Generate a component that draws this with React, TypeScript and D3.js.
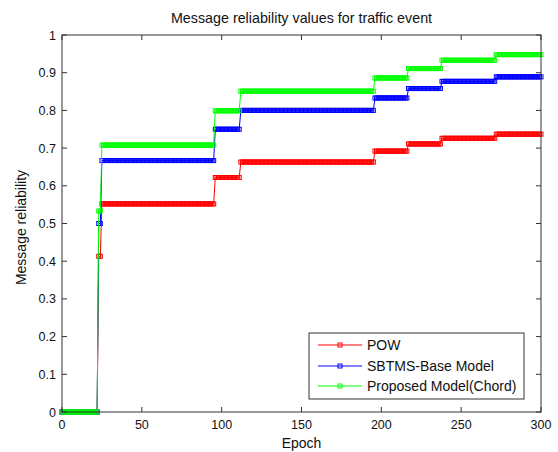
import React from "react";
import * as d3 from "d3";

// Epoch at which each reliability level begins (levels hold until the next start)
const stepStarts = [0, 23, 25, 96, 112, 196, 217, 238, 272];
const lastEpoch = 300;

const powLevels = [0, 0.413, 0.552, 0.622, 0.663, 0.692, 0.711, 0.726, 0.737];
const sbtmsLevels = [0, 0.5, 0.667, 0.75, 0.8, 0.833, 0.858, 0.877, 0.889];
const proposedLevels = [0, 0.533, 0.708, 0.799, 0.851, 0.886, 0.911, 0.933, 0.948];

const seriesNames = ["POW", "SBTMS-Base Model", "Proposed Model(Chord)"];
const seriesColors = ["#ff0000", "#0000ff", "#00ff00"];

const xTicks = [0, 50, 100, 150, 200, 250, 300];
const yTicks = [0, 0.1, 0.2, 0.3, 0.4, 0.5, 0.6, 0.7, 0.8, 0.9, 1];

const W = 558;
const H = 452;
const left = 62;
const right = 541;
const top = 35;
const bottom = 412;

function expand(levels: number[]): [number, number][] {
  const pts: [number, number][] = [];
  for (let e = 0; e <= lastEpoch; e++) {
    let idx = 0;
    for (let i = 0; i < stepStarts.length; i++) if (e >= stepStarts[i]) idx = i;
    pts.push([e, levels[idx]]);
  }
  return pts;
}

export default function App() {
  const x = d3.scaleLinear().domain([0, 300]).range([left, right]);
  const y = d3.scaleLinear().domain([0, 1]).range([bottom, top]);
  const line = d3
    .line<[number, number]>()
    .x((d) => x(d[0]))
    .y((d) => y(d[1]));

  const series = [powLevels, sbtmsLevels, proposedLevels].map(expand);
  const font = "'Liberation Sans', Arial, sans-serif";
  const axisColor = "#333";
  const tickLen = 5;
  const ms = 4;

  const legendX = 309;
  const legendY = 333;
  const legendW = 215;
  const legendH = 66;
  const legendRows = [345, 366, 386];

  return (
    <svg
      width={W}
      height={H}
      style={{ position: "absolute", left: 0, top: 0, background: "#fff" }}
      fontFamily={font}
    >
      <rect x={0} y={0} width={W} height={H} fill="#fff" />
      <text x={(left + right) / 2} y={23} textAnchor="middle" fontSize={14.3} fill="#111">
        Message reliability values for traffic event
      </text>

      {series.map((pts, si) => (
        <g key={si}>
          <path d={line(pts) || ""} fill="none" stroke={seriesColors[si]} strokeWidth={1} />
          {pts.map((p, i) => (
            <rect
              key={i}
              x={x(p[0]) - ms / 2}
              y={y(p[1]) - ms / 2}
              width={ms}
              height={ms}
              fill="none"
              stroke={seriesColors[si]}
              strokeWidth={1}
            />
          ))}
        </g>
      ))}

      {/* axes box */}
      <rect
        x={left}
        y={top}
        width={right - left}
        height={bottom - top}
        fill="none"
        stroke={axisColor}
        strokeWidth={1}
      />
      {xTicks.map((t) => (
        <g key={"x" + t}>
          <line x1={x(t)} x2={x(t)} y1={bottom} y2={bottom - tickLen} stroke={axisColor} />
          <line x1={x(t)} x2={x(t)} y1={top} y2={top + tickLen} stroke={axisColor} />
          <text x={x(t)} y={429} textAnchor="middle" fontSize={12.5} fill="#111">
            {t}
          </text>
        </g>
      ))}
      {yTicks.map((t) => (
        <g key={"y" + t}>
          <line x1={left} x2={left + tickLen} y1={y(t)} y2={y(t)} stroke={axisColor} />
          <line x1={right} x2={right - tickLen} y1={y(t)} y2={y(t)} stroke={axisColor} />
          <text x={56} y={y(t) + 4.5} textAnchor="end" fontSize={12.5} fill="#111">
            {d3.format("~g")(t)}
          </text>
        </g>
      ))}

      <text x={(left + right) / 2} y={448} textAnchor="middle" fontSize={14} fill="#111">
        Epoch
      </text>
      <text
        transform={`translate(26, ${(top + bottom) / 2 + 4}) rotate(-90)`}
        textAnchor="middle"
        fontSize={14}
        fill="#111"
      >
        Message reliability
      </text>

      {/* legend */}
      <rect x={legendX} y={legendY} width={legendW} height={legendH} fill="#fff" stroke={axisColor} />
      {seriesNames.map((name, i) => (
        <g key={name}>
          <line
            x1={318}
            x2={362}
            y1={legendRows[i]}
            y2={legendRows[i]}
            stroke={seriesColors[i]}
            strokeWidth={1}
          />
          <rect
            x={340 - ms / 2}
            y={legendRows[i] - ms / 2}
            width={ms}
            height={ms}
            fill="none"
            stroke={seriesColors[i]}
          />
          <text x={367} y={legendRows[i] + 5} fontSize={14} fill="#111">
            {name}
          </text>
        </g>
      ))}
    </svg>
  );
}
